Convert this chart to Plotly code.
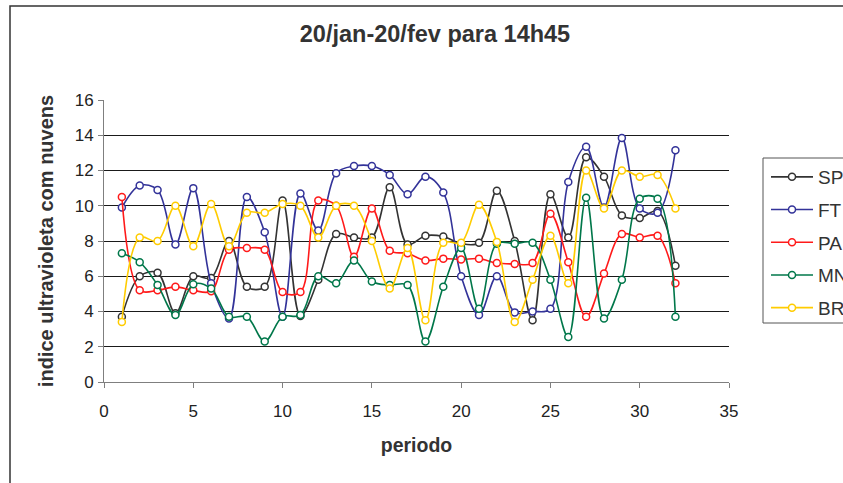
import plotly.graph_objects as go

periodo = list(range(1, 33))

SP = [3.7, 6.0, 6.2, 3.9, 6.0, 5.9, 8.0, 5.4, 5.4, 10.3, 3.75, 5.8, 8.4, 8.2, 8.2, 11.05,
      7.8, 8.3, 8.25, 7.85, 7.9, 10.85, 8.0, 3.5, 10.65, 8.2, 12.75, 11.65, 9.45, 9.3, 9.7, 6.6]
FT = [9.9, 11.15, 10.9, 7.8, 11.0, 5.6, 3.6, 10.5, 8.5, 3.7, 10.7, 8.6, 11.85, 12.25, 12.25, 11.75,
      10.65, 11.65, 10.75, 6.0, 3.8, 6.0, 3.95, 4.0, 4.15, 11.35, 13.35, 9.9, 13.85, 9.85, 9.6, 13.15]
PA = [10.5, 5.2, 5.2, 5.4, 5.2, 5.15, 7.5, 7.6, 7.5, 5.1, 5.1, 10.3, 10.0, 7.1, 9.85, 7.45,
      7.3, 6.9, 7.0, 6.95, 7.0, 6.75, 6.7, 6.75, 9.55, 6.8, 3.7, 6.15, 8.4, 8.2, 8.3, 5.6]
MN = [7.3, 6.8, 5.5, 3.8, 5.55, 5.3, 3.7, 3.7, 2.3, 3.7, 3.8, 6.0, 5.6, 6.9, 5.7, 5.5,
      5.5, 2.3, 5.4, 7.6, 4.15, 7.85, 7.85, 7.9, 5.8, 2.55, 10.45, 3.6, 5.8, 10.4, 10.4, 3.7]
BR = [3.4, 8.2, 8.0, 10.0, 7.7, 10.1, 7.7, 9.6, 9.6, 10.1, 10.0, 8.2, 10.0, 10.0, 8.0, 5.3,
      7.6, 3.5, 7.9, 7.9, 10.05, 7.95, 3.4, 5.8, 8.3, 5.6, 12.0, 9.85, 12.0, 11.65, 11.75, 9.85]

series_names = ["SP", "FT", "PA", "MN", "BR"]
series_values = [SP, FT, PA, MN, BR]
series_colors = ["#333333", "#333399", "#FF1A1A", "#00774A", "#FFCC00"]

fig = go.Figure()
for name, vals, col in zip(series_names, series_values, series_colors):
    fig.add_trace(go.Scatter(
        x=periodo, y=vals, name=name, legendgroup=name,
        mode="lines+markers",
        line=dict(color=col, width=1.6, shape="spline", smoothing=1.0),
        marker=dict(symbol="circle", size=7, color="white", line=dict(color=col, width=1.5)),
    ))

W, H = 843, 483
PL, PR, PT, PB = 104, 729, 100, 382          # plot area in page pixels
pw, ph = PR - PL, PB - PT

def px_x(p):
    return (p - PL) / pw

def px_y(p):
    return (PB - p) / ph

fig.update_layout(
    width=W, height=H,
    margin=dict(l=PL, r=W - PR, t=PT, b=H - PB, autoexpand=False),
    paper_bgcolor="white", plot_bgcolor="white",
    font=dict(family="Liberation Sans, Arial, sans-serif", color="#222222", size=17),
    title=dict(text="<b>20/jan-20/fev para 14h45</b>", x=435 / W, xref="container",
               y=1 - 34 / H, yref="container", xanchor="center", yanchor="middle",
               font=dict(size=23.5, color="#333333")),
    xaxis=dict(range=[0, 35], tickmode="linear", tick0=0, dtick=5,
               showgrid=False, zeroline=False, showline=True, linecolor="#7f7f7f", linewidth=1,
               ticks="outside", ticklen=5, tickcolor="#7f7f7f", ticklabelstandoff=9,
               tickfont=dict(size=17, color="#222222"),
               title=dict(text="<b>periodo</b>", font=dict(size=19.5, color="#333333"), standoff=17)),
    yaxis=dict(range=[0, 16], tickmode="linear", tick0=0, dtick=2,
               showgrid=True, gridcolor="#1a1a1a", gridwidth=1, zeroline=False,
               showline=True, linecolor="#7f7f7f", linewidth=1,
               ticks="outside", ticklen=5, tickcolor="#7f7f7f", ticklabelstandoff=1,
               tickfont=dict(size=17, color="#222222"),
               title=dict(text="<b>indice ultravioleta com nuvens</b>", font=dict(size=20, color="#333333"), standoff=15)),
    legend=dict(x=px_x(766), y=px_y(158), xanchor="left", yanchor="top",
                bgcolor="rgba(0,0,0,0)", borderwidth=0,
                font=dict(size=19, color="#333333"), tracegroupgap=5, itemwidth=42),
    shapes=[
        dict(type="rect", xref="paper", yref="paper",
             x0=px_x(10), x1=1.5, y0=-1.0, y1=px_y(6),
             line=dict(color="#333333", width=1.5), fillcolor="rgba(0,0,0,0)", layer="below"),
        dict(type="rect", xref="paper", yref="paper",
             x0=px_x(763), x1=1.5, y0=px_y(323), y1=px_y(158),
             line=dict(color="#555555", width=1), fillcolor="rgba(0,0,0,0)", layer="below"),
    ],
)

fig.write_html(
    "out.html",
    config={"displayModeBar": False},
    post_script="document.body.style.margin='0';document.body.style.overflow='hidden';",
)
